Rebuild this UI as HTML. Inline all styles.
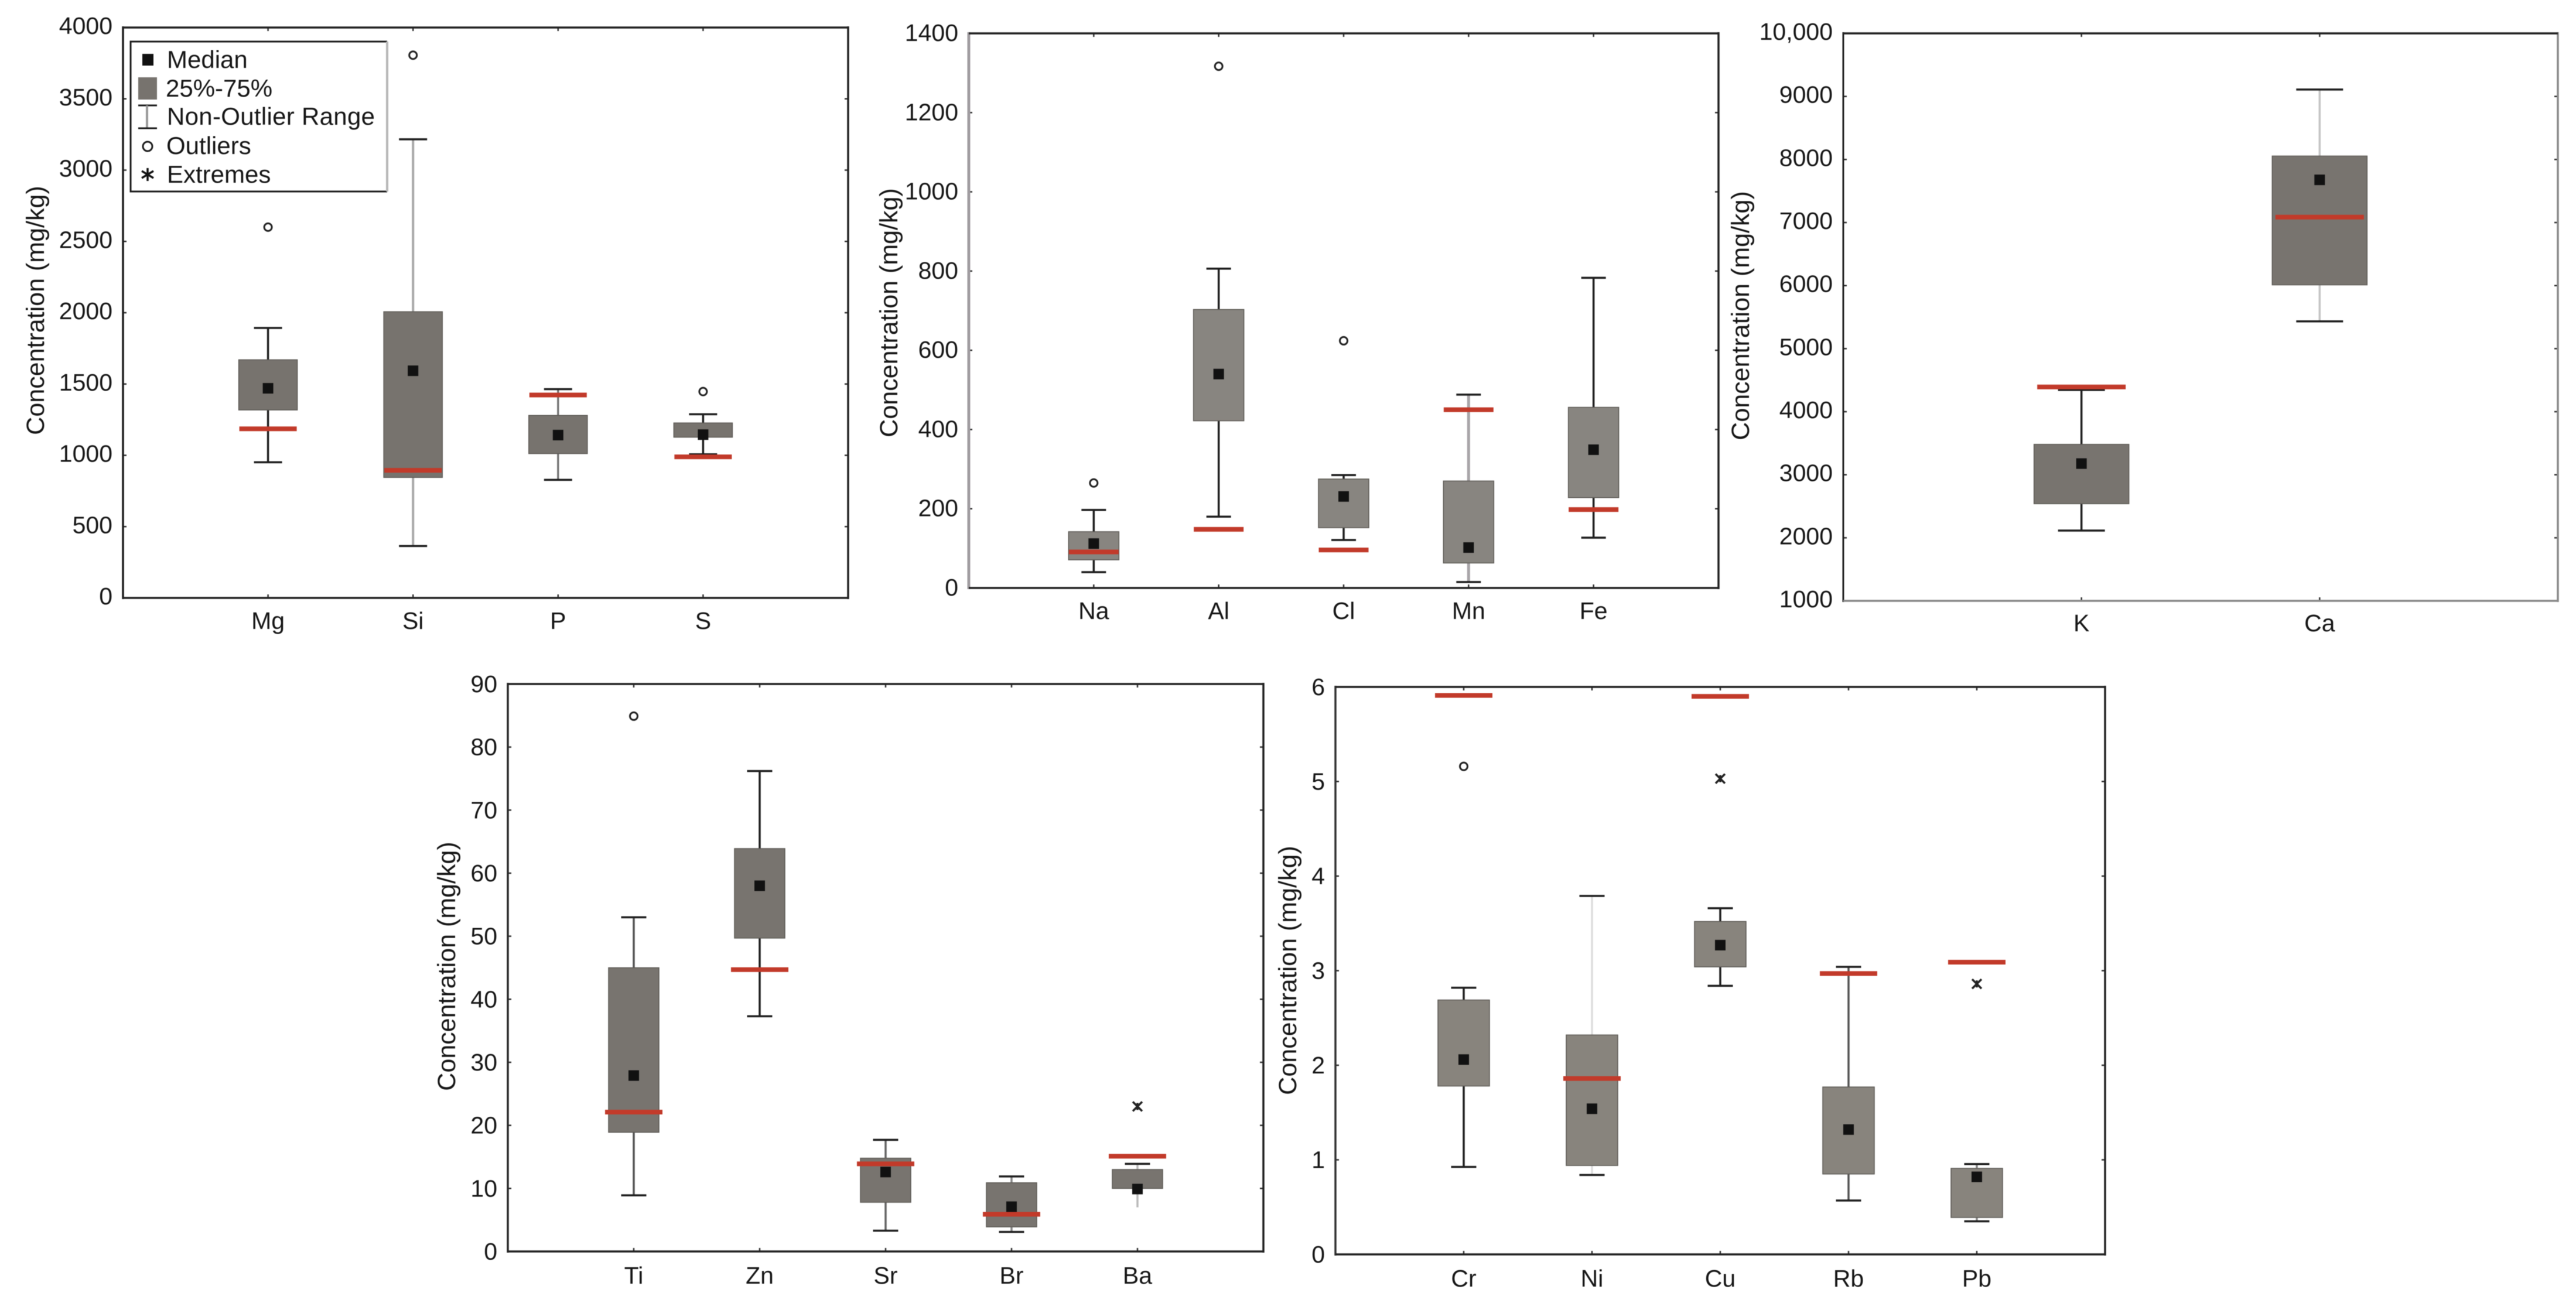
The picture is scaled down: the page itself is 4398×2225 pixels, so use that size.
<!DOCTYPE html>
<html lang="en">
<head>
<meta charset="utf-8">
<title>Element concentration box plots</title>
<style>
  html, body { margin: 0; padding: 0; background: #ffffff; }
  #figure { display: block; width: 4398px; height: 2225px; filter: blur(0.6px); }
  text { font-family: "Liberation Sans", Arial, sans-serif; fill: #161616; }
</style>
</head>
<body>
<svg id="figure" xmlns="http://www.w3.org/2000/svg" width="4398" height="2225" viewBox="0 0 4398 2225">
  <rect x="0" y="0" width="4398" height="2225" fill="#ffffff"/>

  <g id="panel-1">
    <text x="75" y="530" font-size="43" text-anchor="middle" transform="rotate(-90 75 530)">Concentration (mg/kg)</text>
  </g>
  <g id="panel-2">
    <text x="1532" y="534" font-size="43" text-anchor="middle" transform="rotate(-90 1532 534)">Concentration (mg/kg)</text>
  </g>
  <g id="panel-3">
    <text x="2986" y="539" font-size="43" text-anchor="middle" transform="rotate(-90 2986 539)">Concentration (mg/kg)</text>
  </g>
  <g id="panel-4">
    <text x="777" y="1650" font-size="43" text-anchor="middle" transform="rotate(-90 777 1650)">Concentration (mg/kg)</text>
  </g>
  <g id="panel-5">
    <text x="2213" y="1657" font-size="43" text-anchor="middle" transform="rotate(-90 2213 1657)">Concentration (mg/kg)</text>
  </g>

  <g id="legend">
    <rect x="223" y="71" width="438" height="256" fill="#ffffff"/>
    <path d="M661 71H223V327H661" fill="none" stroke="#1c1c1c" stroke-width="3"/>
    <line x1="661" y1="71" x2="661" y2="327" stroke="#b8b8b8" stroke-width="4"/>

    <g>
      <rect x="243" y="92" width="19" height="20" fill="#111111"/>
      <text x="285" y="116" font-size="42">Median</text>
    </g>
    <g>
      <rect x="236" y="132" width="32" height="38" fill="#77736e"/>
      <text x="283" y="165" font-size="42">25%-75%</text>
    </g>
    <g>
      <line x1="236" y1="180" x2="268" y2="180" stroke="#1c1c1c" stroke-width="3"/>
      <line x1="251" y1="180" x2="251" y2="219" stroke="#999999" stroke-width="4"/>
      <line x1="236" y1="219" x2="268" y2="219" stroke="#1c1c1c" stroke-width="3"/>
      <text x="285" y="213" font-size="42" letter-spacing="0.3">Non-Outlier Range</text>
    </g>
    <g>
      <circle cx="252" cy="250" r="8" fill="none" stroke="#1c1c1c" stroke-width="3"/>
      <text x="284" y="263" font-size="42">Outliers</text>
    </g>
    <g>
      <path d="M252 287V309M242 292L262 304M262 292L242 304" fill="none" stroke="#111111" stroke-width="3.5"/>
      <text x="285" y="312" font-size="42">Extremes</text>
    </g>
  </g>
</svg>

<script>
// ---------- Panel 1 data ----------
const chart1Categories = ["Mg", "Si", "P", "S"];
const chart1YTickValues = [0, 500, 1000, 1500, 2000, 2500, 3000, 3500, 4000];
const chart1YTickLabels = ["0", "500", "1000", "1500", "2000", "2500", "3000", "3500", "4000"];
const chart1WhiskerHigh = [1893, 3216, 1464, 1288];
const chart1Q3 = [1670, 2007, 1280, 1227];
const chart1Median = [1470, 1593, 1142, 1145];
const chart1Q1 = [1318, 845, 1012, 1127];
const chart1WhiskerLow = [951, 364, 828, 1007];
const chart1Reference = [1186, 895, 1423, 989];
const chart1Outliers = [2600, 3806, null, 1447];
const chart1Extremes = [null, null, null, null];

// ---------- Panel 2 data ----------
const chart2Categories = ["Na", "Al", "Cl", "Mn", "Fe"];
const chart2YTickValues = [0, 200, 400, 600, 800, 1000, 1200, 1400];
const chart2YTickLabels = ["0", "200", "400", "600", "800", "1000", "1200", "1400"];
const chart2WhiskerHigh = [197, 806, 285, 488, 783];
const chart2Q3 = [142, 703, 275, 270, 456];
const chart2Median = [112, 540, 231, 102, 349];
const chart2Q1 = [71, 422, 152, 63, 228];
const chart2WhiskerLow = [40, 180, 121, 15, 127];
const chart2Reference = [91, 148, 96, 450, 198];
const chart2Outliers = [265, 1317, 624, null, null];
const chart2Extremes = [null, null, null, null, null];

// ---------- Panel 3 data ----------
const chart3Categories = ["K", "Ca"];
const chart3YTickValues = [1000, 2000, 3000, 4000, 5000, 6000, 7000, 8000, 9000, 10000];
const chart3YTickLabels = ["1000", "2000", "3000", "4000", "5000", "6000", "7000", "8000", "9000", "10,000"];
const chart3WhiskerHigh = [4345, 9110];
const chart3Q3 = [3482, 8055];
const chart3Median = [3177, 7677];
const chart3Q1 = [2540, 6011];
const chart3WhiskerLow = [2115, 5433];
const chart3Reference = [4392, 7086];
const chart3Outliers = [null, null];
const chart3Extremes = [null, null];

// ---------- Panel 4 data ----------
const chart4Categories = ["Ti", "Zn", "Sr", "Br", "Ba"];
const chart4YTickValues = [0, 10, 20, 30, 40, 50, 60, 70, 80, 90];
const chart4YTickLabels = ["0", "10", "20", "30", "40", "50", "60", "70", "80", "90"];
const chart4WhiskerHigh = [53, 76.2, 17.7, 11.9, 13.9];
const chart4Q3 = [45, 63.9, 14.8, 10.9, 13];
const chart4Median = [27.9, 58, 12.6, 7.1, 9.9];
const chart4Q1 = [18.9, 49.7, 7.8, 3.9, 10];
const chart4WhiskerLow = [8.9, 37.3, 3.3, 3.1, 7];
const chart4Reference = [22.1, 44.7, 13.9, 5.9, 15.1];
const chart4Outliers = [84.9, null, null, null, null];
const chart4Extremes = [null, null, null, null, 23];

// ---------- Panel 5 data ----------
const chart5Categories = ["Cr", "Ni", "Cu", "Rb", "Pb"];
const chart5YTickValues = [0, 1, 2, 3, 4, 5, 6];
const chart5YTickLabels = ["0", "1", "2", "3", "4", "5", "6"];
const chart5WhiskerHigh = [2.82, 3.79, 3.66, 3.04, 0.955];
const chart5Q3 = [2.69, 2.32, 3.52, 1.77, 0.91];
const chart5Median = [2.06, 1.54, 3.27, 1.32, 0.82];
const chart5Q1 = [1.78, 0.94, 3.04, 0.85, 0.39];
const chart5WhiskerLow = [0.925, 0.84, 2.84, 0.57, 0.35];
const chart5Reference = [5.91, 1.86, 5.9, 2.97, 3.09];
const chart5Outliers = [5.16, null, null, null, null];
const chart5Extremes = [null, null, 5.03, null, 2.86];

const SVG_NS = "http://www.w3.org/2000/svg";

function mark(tag, attrs, parent) {
  const el = document.createElementNS(SVG_NS, tag);
  Object.keys(attrs).forEach(function (k) { el.setAttribute(k, attrs[k]); });
  parent.appendChild(el);
  return el;
}

function drawPanel(panelId, layout, categories, tickValues, tickLabels, high, q3, median, q1, low, reference, outliers, extremes) {
  const g = document.getElementById(panelId);
  const yMin = tickValues[0];
  const yMax = tickValues[tickValues.length - 1];
  const plotW = layout.right - layout.left;
  const plotH = layout.bottom - layout.top;
  const xScale = function (i) { return layout.left + plotW * (i + 1) / (categories.length + 1); };
  const yScale = function (v) { return layout.bottom - plotH * (v - yMin) / (yMax - yMin); };

  // y axis ticks and labels
  tickValues.forEach(function (v, i) {
    const y = yScale(v);
    const tl = mark("line", { x1: layout.left, y1: y, x2: layout.left + 6, y2: y, stroke: "#333", "stroke-width": 2.5 }, g);
    
    
    const tr = mark("line", { x1: layout.right, y1: y, x2: layout.right - 6, y2: y, stroke: "#333", "stroke-width": 2.5 }, g);
    
    
    const lab = mark("text", { x: layout.left - 18, y: y + layout.labelDy, "font-size": 41, "text-anchor": "end" }, g);
    lab.textContent = tickLabels[i];
    
    
  });

  // x ticks and labels
  categories.forEach(function (c, i) {
    const x = xScale(i);
    const tb = mark("line", { x1: x, y1: layout.bottom, x2: x, y2: layout.bottom - 6, stroke: "#333", "stroke-width": 2.5 }, g);
    
    
    const tt = mark("line", { x1: x, y1: layout.top, x2: x, y2: layout.top + 6, stroke: "#333", "stroke-width": 2.5 }, g);
    
    
    const lab = mark("text", { x: x, y: layout.bottom + layout.catDy, "font-size": 41, "text-anchor": "middle" }, g);
    lab.textContent = c;
    
    
  });

  // frame
  const frameLeft = mark("line", { x1: layout.left, y1: layout.top - 2, x2: layout.left, y2: layout.bottom + 2, stroke: layout.leftColor, "stroke-width": layout.leftWidth }, g);
  
  
  const frameRight = mark("line", { x1: layout.right, y1: layout.top - 2, x2: layout.right, y2: layout.bottom + 2, stroke: layout.rightColor, "stroke-width": 3.5 }, g);
  
  
  const frameTop = mark("line", { x1: layout.left, y1: layout.top, x2: layout.right, y2: layout.top, stroke: "#222", "stroke-width": 3.5 }, g);
  
  
  const frameBottom = mark("line", { x1: layout.left, y1: layout.bottom, x2: layout.right, y2: layout.bottom, stroke: layout.bottomColor, "stroke-width": 3.5 }, g);
  
  

  // series
  categories.forEach(function (c, i) {
    const x = xScale(i);
    const key = c.toLowerCase();
    const whiskerColor = (layout.whiskerColors && layout.whiskerColors[c]) || "#1f1f1f";
    const whiskerWidth = (layout.whiskerWidths && layout.whiskerWidths[c]) || 3.5;

    const whisker = mark("line", { x1: x, y1: yScale(high[i]), x2: x, y2: yScale(low[i]), stroke: whiskerColor, "stroke-width": whiskerWidth }, g);
    
    

    const capHigh = mark("line", { x1: x - layout.capW / 2, y1: yScale(high[i]), x2: x + layout.capW / 2, y2: yScale(high[i]), stroke: "#1f1f1f", "stroke-width": 3.5 }, g);
    
    

    if (!(layout.noLowCap && layout.noLowCap[c])) {
      const capLow = mark("line", { x1: x - layout.capW / 2, y1: yScale(low[i]), x2: x + layout.capW / 2, y2: yScale(low[i]), stroke: "#1f1f1f", "stroke-width": 3.5 }, g);
      
      
    }

    const box = mark("rect", { x: x - layout.boxW / 2, y: yScale(q3[i]), width: layout.boxW, height: yScale(q1[i]) - yScale(q3[i]), fill: layout.boxColor, stroke: "#5e5b56", "stroke-width": 1.5 }, g);
    
    

    const ref = mark("line", { x1: x - layout.refW / 2, y1: yScale(reference[i]), x2: x + layout.refW / 2, y2: yScale(reference[i]), stroke: "#c23a2a", "stroke-width": 8 }, g);
    
    

    const med = mark("rect", { x: x - 9, y: yScale(median[i]) - 9, width: 18, height: 18, fill: "#111111" }, g);
    
    

    if (outliers[i] !== null) {
      const out = mark("circle", { cx: x, cy: yScale(outliers[i]), r: 6.5, fill: "none", stroke: "#222", "stroke-width": 3 }, g);
      
      
    }
    if (extremes[i] !== null) {
      const ey = yScale(extremes[i]);
      const ext = mark("path", { d: "M" + x + " " + (ey - 6) + "V" + (ey + 6) + "M" + (x - 8) + " " + (ey - 8) + "L" + (x + 8) + " " + (ey + 8) + "M" + (x + 8) + " " + (ey - 8) + "L" + (x - 8) + " " + (ey + 8), fill: "none", stroke: "#222", "stroke-width": 3.5 }, g);
      
      
    }
  });
}

drawPanel("panel-1",
  { left: 210, right: 1448, top: 47, bottom: 1021, labelDy: 11, catDy: 53, boxW: 100, refW: 98, capW: 48, boxColor: "#77736e", leftColor: "#1c1c1c", leftWidth: 3.5, rightColor: "#222", bottomColor: "#222", whiskerColors: { Si: "#a8a8a8", P: "#777" }, whiskerWidths: { Si: 4 } },
  chart1Categories, chart1YTickValues, chart1YTickLabels, chart1WhiskerHigh, chart1Q3, chart1Median, chart1Q1, chart1WhiskerLow, chart1Reference, chart1Outliers, chart1Extremes);

drawPanel("panel-2",
  { left: 1654, right: 2934, top: 57, bottom: 1004, labelDy: 13, catDy: 53, boxW: 86, refW: 85, capW: 42, boxColor: "#888580", leftColor: "#a09ca0", leftWidth: 5, rightColor: "#222", bottomColor: "#222", whiskerColors: { Mn: "#a8a5a8" }, whiskerWidths: { Mn: 5 } },
  chart2Categories, chart2YTickValues, chart2YTickLabels, chart2WhiskerHigh, chart2Q3, chart2Median, chart2Q1, chart2WhiskerLow, chart2Reference, chart2Outliers, chart2Extremes);

drawPanel("panel-3",
  { left: 3147, right: 4367, top: 57, bottom: 1026, labelDy: 11, catDy: 52, boxW: 162, refW: 151, capW: 80, boxColor: "#78746f", leftColor: "#1c1c1c", leftWidth: 3, rightColor: "#8a8a8a", bottomColor: "#8a8a8a", whiskerColors: { Ca: "#c4c4c4" } },
  chart3Categories, chart3YTickValues, chart3YTickLabels, chart3WhiskerHigh, chart3Q3, chart3Median, chart3Q1, chart3WhiskerLow, chart3Reference, chart3Outliers, chart3Extremes);

drawPanel("panel-4",
  { left: 867, right: 2157, top: 1168, bottom: 2137, labelDy: 14, catDy: 55, boxW: 86, refW: 98, capW: 43, boxColor: "#78746f", leftColor: "#2a2a2a", leftWidth: 3.5, rightColor: "#222", bottomColor: "#222", whiskerColors: { Ti: "#555", Sr: "#666", Br: "#888", Ba: "#bbb" }, noLowCap: { Ba: true } },
  chart4Categories, chart4YTickValues, chart4YTickLabels, chart4WhiskerHigh, chart4Q3, chart4Median, chart4Q1, chart4WhiskerLow, chart4Reference, chart4Outliers, chart4Extremes);

drawPanel("panel-5",
  { left: 2280, right: 3594, top: 1173, bottom: 2142, labelDy: 14, catDy: 55, boxW: 88, refW: 98, capW: 43, boxColor: "#88847d", leftColor: "#333", leftWidth: 3.5, rightColor: "#222", bottomColor: "#222", whiskerColors: { Ni: "#dddddd", Rb: "#555", Pb: "#888" } },
  chart5Categories, chart5YTickValues, chart5YTickLabels, chart5WhiskerHigh, chart5Q3, chart5Median, chart5Q1, chart5WhiskerLow, chart5Reference, chart5Outliers, chart5Extremes);
</script>
</body>
</html>
